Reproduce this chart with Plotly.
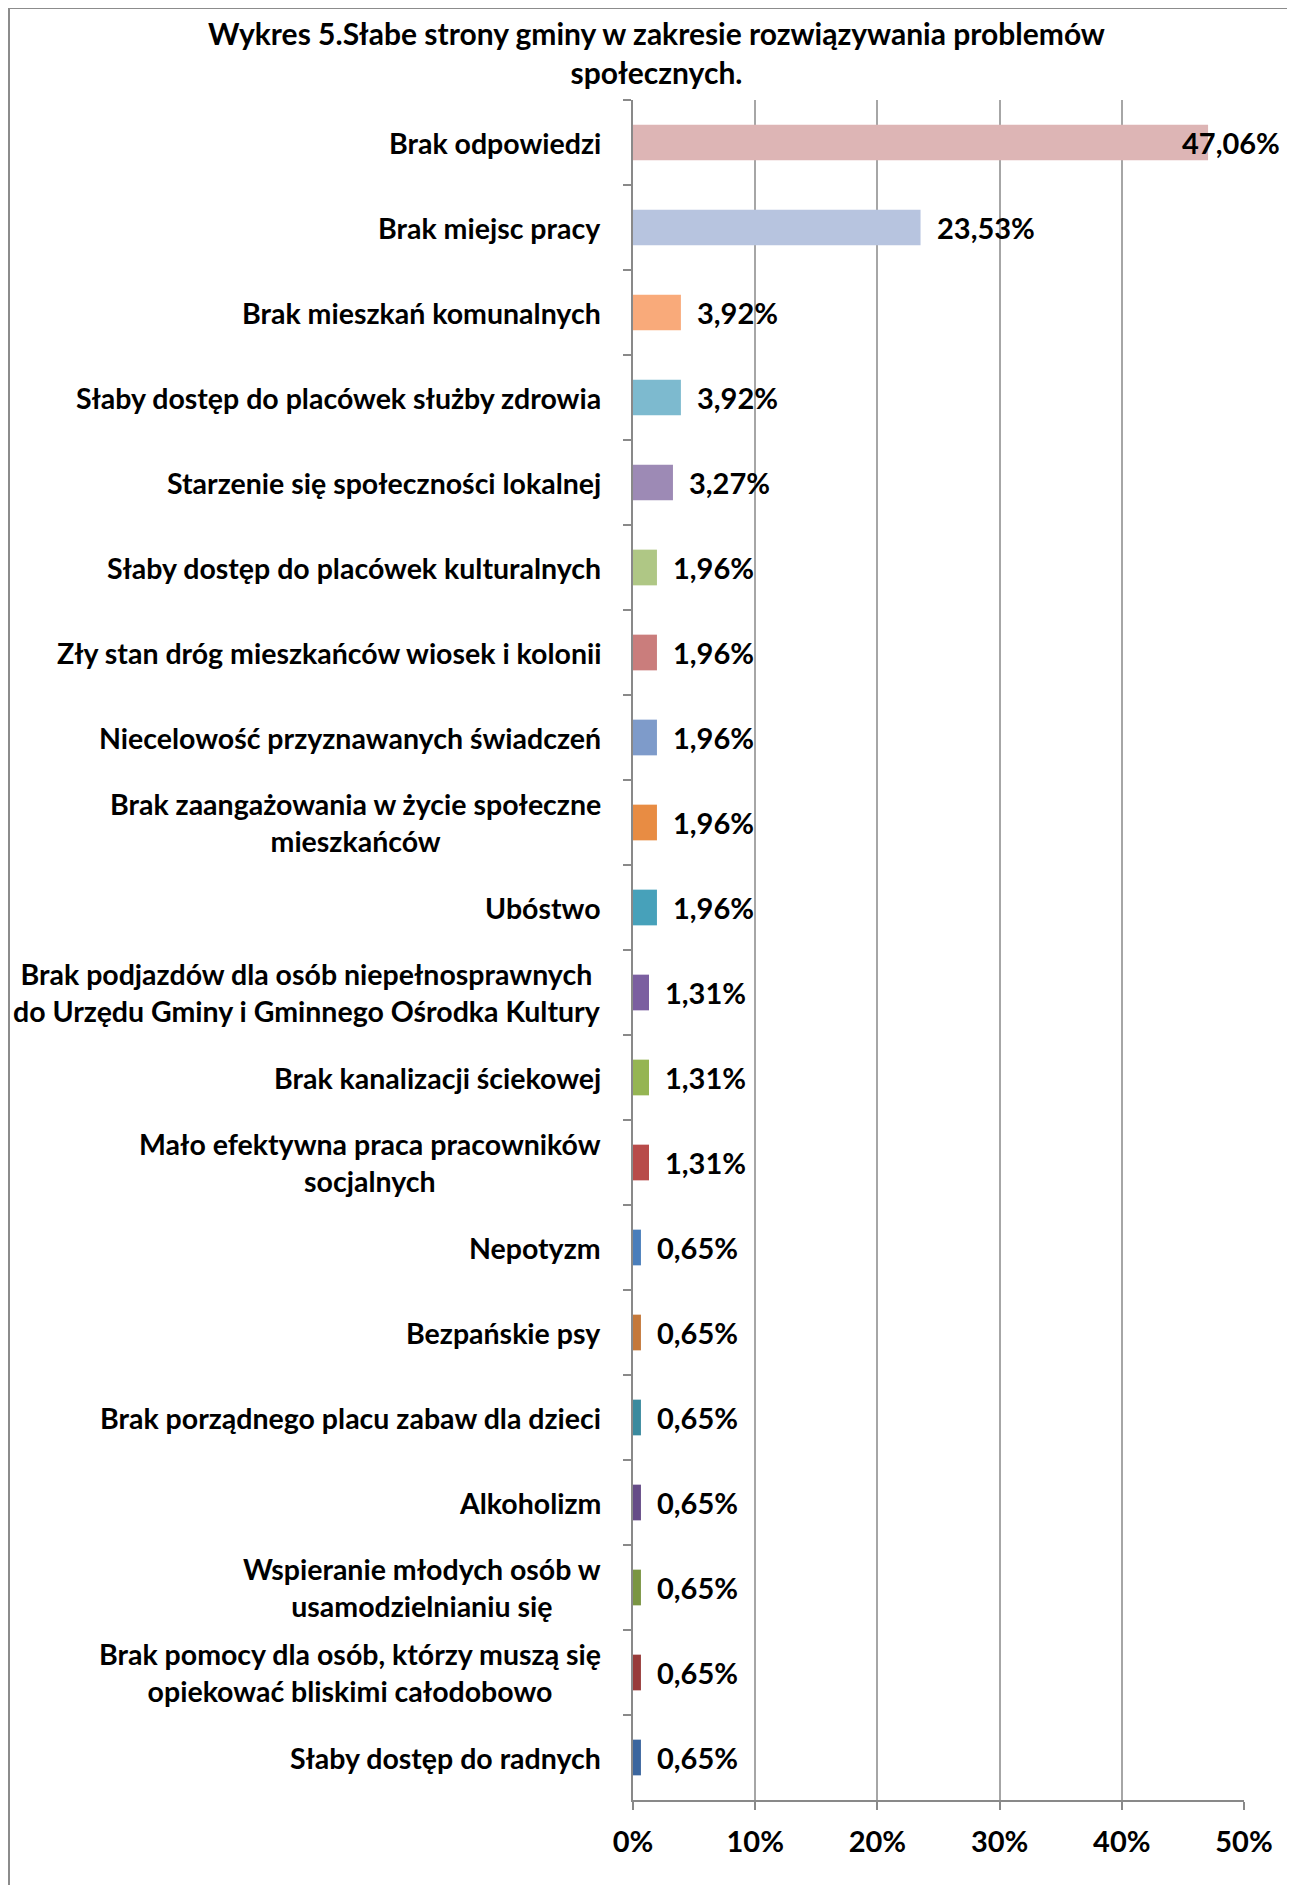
import plotly.graph_objects as go

categories = [
    "Brak odpowiedzi",
    "Brak miejsc pracy",
    "Brak mieszkań komunalnych",
    "Słaby dostęp do placówek służby zdrowia",
    "Starzenie się społeczności lokalnej",
    "Słaby dostęp do placówek kulturalnych",
    "Zły stan dróg mieszkańców wiosek i kolonii",
    "Niecelowość przyznawanych świadczeń",
    "Brak zaangażowania w życie społeczne<br>mieszkańców",
    "Ubóstwo",
    "Brak podjazdów dla osób niepełnosprawnych<br>do Urzędu Gminy i Gminnego Ośrodka Kultury",
    "Brak kanalizacji ściekowej",
    "Mało efektywna praca pracowników<br>socjalnych",
    "Nepotyzm",
    "Bezpańskie psy",
    "Brak porządnego placu zabaw dla dzieci",
    "Alkoholizm",
    "Wspieranie młodych osób w<br>usamodzielnianiu się",
    "Brak pomocy dla osób, którzy muszą się<br>opiekować bliskimi całodobowo",
    "Słaby dostęp do radnych",
]
values = [47.06, 23.53, 3.92, 3.92, 3.27, 1.96, 1.96, 1.96, 1.96, 1.96,
          1.31, 1.31, 1.31, 0.65, 0.65, 0.65, 0.65, 0.65, 0.65, 0.65]
colors = [
    "#DDB5B5", "#B7C4DF", "#F9AA7A", "#7DBACF", "#9D8AB5",
    "#AFC785", "#CA7D7C", "#7E9BCA", "#E88C43", "#47A1BA",
    "#7B5FA0", "#95B553", "#B84B4A", "#4A7EBB", "#C4783A",
    "#3A8A9E", "#654B87", "#7A9543", "#983B3A", "#3B669E",
]
x_ticks = [0, 10, 20, 30, 40, 50]
x_ticklabels = ["0%", "10%", "20%", "30%", "40%", "50%"]
title_text = "Wykres 5.Słabe strony gminy w zakresie rozwiązywania problemów<br>społecznych."

FONT = "Lato"
OFF = 8                      # page body margin
W, H = 1295 - OFF, 1885 - OFF
ML, MR, MT, MB = 625, 51, 92, 85
XMAX = 50
plot_w = W - ML - MR
plot_h = H - MT - MB


def px_x(p):
    return (p - ML) / plot_w


def px_y(p):
    return (H - MB - p) / plot_h


fig = go.Figure(go.Bar(
    y=categories, x=values, orientation="h",
    marker=dict(color=colors, line=dict(width=0)),
    hoverinfo="skip",
))

annotations = []
# category labels: right-aligned block, lines centred
for c in categories:
    annotations.append(dict(
        x=0, xref="paper", y=c, yref="y", xshift=-30,
        xanchor="right", yanchor="middle", align="center",
        text=c, showarrow=False,
        font=dict(family=FONT, size=28.5, color="black", weight="bold"),
    ))

# value labels
for c, v in zip(categories, values):
    lab = f"{v:.2f}%".replace(".", ",")
    end_px = ML + v / XMAX * plot_w
    lab_font = dict(family=FONT, size=29, color="black", weight="bold")
    if end_px + 16 + 100 > W - 10:
        annotations.append(dict(
            x=1, xref="paper", y=c, yref="y", xshift=38,
            xanchor="right", yanchor="middle", text=lab, showarrow=False,
            font=lab_font,
        ))
    else:
        annotations.append(dict(
            x=v, xref="x", y=c, yref="y", xshift=14,
            xanchor="left", yanchor="middle", text=lab, showarrow=False,
            font=lab_font,
        ))

annotations.append(dict(
    x=px_x(648), xref="paper", y=px_y(5), yref="paper",
    xanchor="center", yanchor="top", align="center",
    text=title_text, showarrow=False,
    font=dict(family=FONT, size=30, color="black", weight="bold"),
))

fig.update_layout(
    width=W, height=H,
    margin=dict(l=ML, r=MR, t=MT, b=MB),
    paper_bgcolor="white", plot_bgcolor="white",
    showlegend=False,
    bargap=0.58,
    xaxis=dict(
        range=[0, XMAX], tickvals=x_ticks, ticktext=x_ticklabels,
        showgrid=True, gridcolor="#A6A6A6", gridwidth=2,
        showline=True, linecolor="#898989", linewidth=2,
        ticks="outside", ticklen=8, tickwidth=2, tickcolor="#898989",
        zeroline=False, ticklabelstandoff=7,
        tickfont=dict(family=FONT, size=29, color="black", weight="bold"),
        fixedrange=True,
    ),
    yaxis=dict(
        autorange="reversed", showticklabels=False,
        showline=True, linecolor="#898989", linewidth=2,
        ticks="outside", ticklen=8, tickwidth=2, tickcolor="#898989",
        tickson="boundaries", showgrid=False, zeroline=False,
        fixedrange=True,
    ),
    annotations=annotations,
    shapes=[dict(
        type="rect", xref="paper", yref="paper",
        x0=px_x(1), x1=px_x(1280),
        y0=px_y(H + 20), y1=px_y(0),
        line=dict(color="#8C8C8C", width=2), layer="below",
    )],
)

fig.write_html("out.html")
